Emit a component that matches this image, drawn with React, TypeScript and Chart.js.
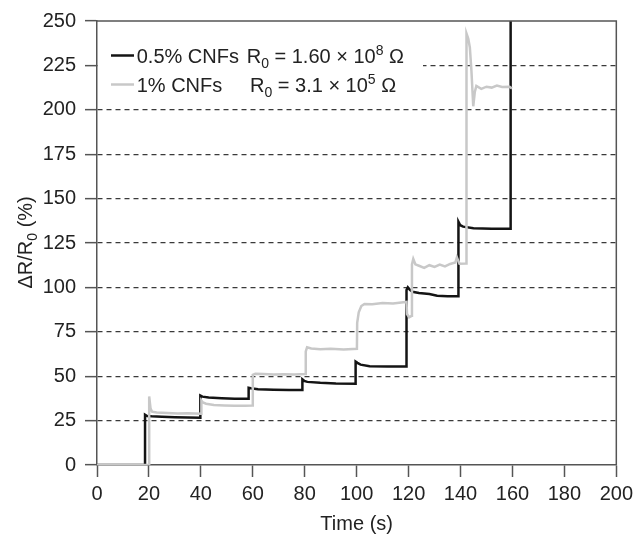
import React, { useEffect, useRef } from "react";
import { Chart, registerables } from "chart.js";

Chart.register(...registerables);

// Time (s), ΔR/R0 (%) for the 0.5 % CNF sample
const blackTrace: [number, number][] = [
  [0, 0], [18.5, 0], [18.5, 28.3], [19.3, 27.6], [21, 27.4], [25, 27.2], [30, 26.9], [35, 26.7], [39.8, 26.6],
  [39.8, 39.1], [40.6, 38.5], [43, 38], [48, 37.6], [53, 37.3], [58.4, 37.3],
  [58.4, 43.5], [59.2, 43.2], [62, 42.6], [68, 42.4], [74, 42.3], [79.1, 42.3],
  [79.1, 48.2], [79.8, 47.4], [81, 46.8], [86, 46.3], [92, 45.9], [99.6, 45.8],
  [99.6, 58.2], [100.3, 57.5], [101.5, 56.5], [105, 55.6], [112, 55.4], [119.2, 55.4],
  [119.2, 98.5], [119.7, 100], [120.5, 98.6], [121.5, 97.5], [124, 96.8], [128, 96.3], [131, 95.3], [135, 95], [139.2, 95],
  [139.2, 137], [139.9, 135], [141, 134.2], [145, 133.3], [152, 133], [159.3, 133],
  [159.3, 300],
];

// Time (s), ΔR/R0 (%) for the 1 % CNF sample
const grayTrace: [number, number][] = [
  [0, 0], [20.1, 0], [20.1, 38.6], [20.6, 32], [21.2, 30], [23, 29.6], [27, 29.3], [31, 29], [35, 29.1], [40.1, 28.9],
  [40.2, 36.3], [40.8, 35.2], [42, 34.5], [45, 33.8], [49, 33.5], [53, 33.3], [57, 33.4], [59.9, 33.5],
  [60, 50.8], [61, 51.4], [64, 51.2], [68, 50.9], [72, 51.1], [76, 51], [80.3, 51.2],
  [80.4, 64], [80.9, 66.3], [82.5, 65.6], [86, 65.2], [90, 65.4], [95, 65], [100.1, 65.4],
  [100.2, 80], [100.8, 86], [101.8, 89.5], [103, 90.7], [106, 90.5], [110, 91.2], [114, 91], [118, 91.6], [119.2, 91.8],
  [119.4, 85], [120.2, 83.2], [121.2, 84], [121.3, 113], [121.8, 116], [122.6, 113], [124, 112.2], [126, 111],
  [128, 112.5], [130, 111.5], [132, 112.8], [134, 111.8], [136, 113.2], [138, 114], [138.6, 116.9], [139.6, 113.3], [142.2, 113.4],
  [142.3, 243], [143, 240], [143.6, 235], [144.2, 222], [144.9, 202], [145.5, 210], [146.1, 213.4],
  [148, 211.8], [150, 213], [152, 212.5], [154, 213.6], [156, 212.8], [158.9, 213], [159.8, 212],
];

const xTickValues = [0, 20, 40, 60, 80, 100, 120, 140, 160, 180, 200];
const yTickValues = [0, 25, 50, 75, 100, 125, 150, 175, 200, 225, 250];

const seriesNames = ["0.5% CNFs", "1% CNFs"];
const r0Mantissa = ["1.60", "3.1"];
const r0Exponent = ["8", "5"];
const seriesColors = ["#141414", "#c8c8c8"];

const xTitle = "Time (s)";
const FONT = '"Liberation Sans", Arial, Helvetica, sans-serif';

const overlayPlugin = {
  id: "overlay",
  afterDatasetsDraw(chart: any) {
    const { ctx, chartArea } = chart;
    const { left, top, right, bottom } = chartArea;
    ctx.save();
    // legend background
    ctx.fillStyle = "#ffffff";
    ctx.fillRect(left + 1, top + 1, 422 - left, 100 - top);

    const rows = [63, 92];
    const textX = [136.7, 136.7];
    const rX = [246.7, 250];
    for (let i = 0; i < 2; i++) {
      const base = rows[i];
      ctx.strokeStyle = seriesColors[i];
      ctx.lineWidth = 2.5;
      ctx.beginPath();
      ctx.moveTo(111, base - 7.5);
      ctx.lineTo(134, base - 7.5);
      ctx.stroke();

      ctx.fillStyle = "#222";
      ctx.textBaseline = "alphabetic";
      ctx.textAlign = "left";
      ctx.font = `20px ${FONT}`;
      ctx.fillText(seriesNames[i], textX[i], base);
      let x = rX[i];
      ctx.fillText("R", x, base);
      x += ctx.measureText("R").width;
      ctx.font = `14px ${FONT}`;
      ctx.fillText("0", x, base + 5);
      x += ctx.measureText("0").width;
      ctx.font = `20px ${FONT}`;
      const mid = ` = ${r0Mantissa[i]} \u00d7 10`;
      ctx.fillText(mid, x, base);
      x += ctx.measureText(mid).width;
      ctx.font = `14px ${FONT}`;
      ctx.fillText(r0Exponent[i], x, base - 8);
      x += ctx.measureText(r0Exponent[i]).width;
      ctx.font = `20px ${FONT}`;
      ctx.fillText(" \u03a9", x, base);
    }
    ctx.restore();
  },
  afterDraw(chart: any) {
    const { ctx, chartArea } = chart;
    const { left, top, right, bottom } = chartArea;
    ctx.save();
    // frame top & right
    ctx.strokeStyle = "#555";
    ctx.lineWidth = 1.5;
    ctx.beginPath();
    ctx.moveTo(left, top);
    ctx.lineTo(right, top);
    ctx.lineTo(right, bottom);
    ctx.stroke();

    // x title
    ctx.fillStyle = "#222";
    ctx.font = `20px ${FONT}`;
    ctx.textAlign = "center";
    ctx.textBaseline = "alphabetic";
    ctx.fillText(xTitle, (left + right) / 2, 530);

    // y title: ΔR/R0 (%)
    ctx.translate(31.7, 288.5);
    ctx.rotate(-Math.PI / 2);
    ctx.textAlign = "left";
    let x = 0;
    ctx.font = `20px ${FONT}`;
    ctx.fillText("\u0394R/R", x, 0);
    x += ctx.measureText("\u0394R/R").width;
    ctx.font = `14px ${FONT}`;
    ctx.fillText("0", x, 5);
    x += ctx.measureText("0").width;
    ctx.font = `20px ${FONT}`;
    ctx.fillText(" (%)", x, 0);
    ctx.restore();
  },
};

export default function App() {
  const canvasRef = useRef<HTMLCanvasElement | null>(null);

  useEffect(() => {
    const canvas = canvasRef.current;
    if (!canvas) return;
    const toPoints = (arr: [number, number][]) => arr.map(([x, y]) => ({ x, y }));
    const chart = new Chart(canvas, {
      type: "line",
      data: {
        datasets: [
          {
            label: seriesNames[1],
            data: toPoints(grayTrace),
            borderColor: seriesColors[1],
            borderWidth: 2.5,
            pointRadius: 0,
            tension: 0,
          },
          {
            label: seriesNames[0],
            data: toPoints(blackTrace),
            borderColor: seriesColors[0],
            borderWidth: 2.5,
            pointRadius: 0,
            tension: 0,
          },
        ],
      },
      options: {
        responsive: false,
        animation: false,
        devicePixelRatio: 1,
        layout: { padding: { top: 20, right: 19, left: 0, bottom: 0 } },
        plugins: { legend: { display: false }, tooltip: { enabled: false } },
        scales: {
          x: {
            type: "linear",
            min: 0,
            max: 200,
            afterBuildTicks: (scale: any) => {
              scale.ticks = xTickValues.map((v) => ({ value: v }));
            },
            afterFit: (scale: any) => {
              scale.height = 71;
            },
            ticks: {
              autoSkip: false,
              maxRotation: 0,
              padding: 5,
              color: "#222",
              font: { family: FONT, size: 20 },
            },
            grid: {
              drawOnChartArea: false,
              drawTicks: true,
              tickLength: 12,
              tickColor: "#555",
              tickWidth: 1.5,
            },
            border: { display: true, color: "#555", width: 1.5 },
          },
          y: {
            type: "linear",
            min: 0,
            max: 250,
            afterBuildTicks: (scale: any) => {
              scale.ticks = yTickValues.map((v) => ({ value: v }));
            },
            afterFit: (scale: any) => {
              scale.width = 97;
            },
            ticks: {
              autoSkip: false,
              padding: 9,
              color: "#222",
              font: { family: FONT, size: 20 },
            },
            grid: {
              drawOnChartArea: true,
              drawTicks: true,
              tickLength: 12,
              tickColor: "#555",
              tickWidth: 1.5,
              lineWidth: 1.3,
              color: (c: any) =>
                c.tick && (c.tick.value === 0 || c.tick.value === 250) ? "rgba(0,0,0,0)" : "#3a3a3a",
            },
            border: { display: true, color: "#555", width: 1.5, dash: [5, 4] },
          },
        },
      },
      plugins: [overlayPlugin],
    });
    return () => chart.destroy();
  }, []);

  return (
    <div style={{ position: "absolute", left: 0, top: 0, width: 638, height: 536, background: "#fff" }}>
      <canvas ref={canvasRef} width={638} height={536} style={{ display: "block" }} />
    </div>
  );
}
